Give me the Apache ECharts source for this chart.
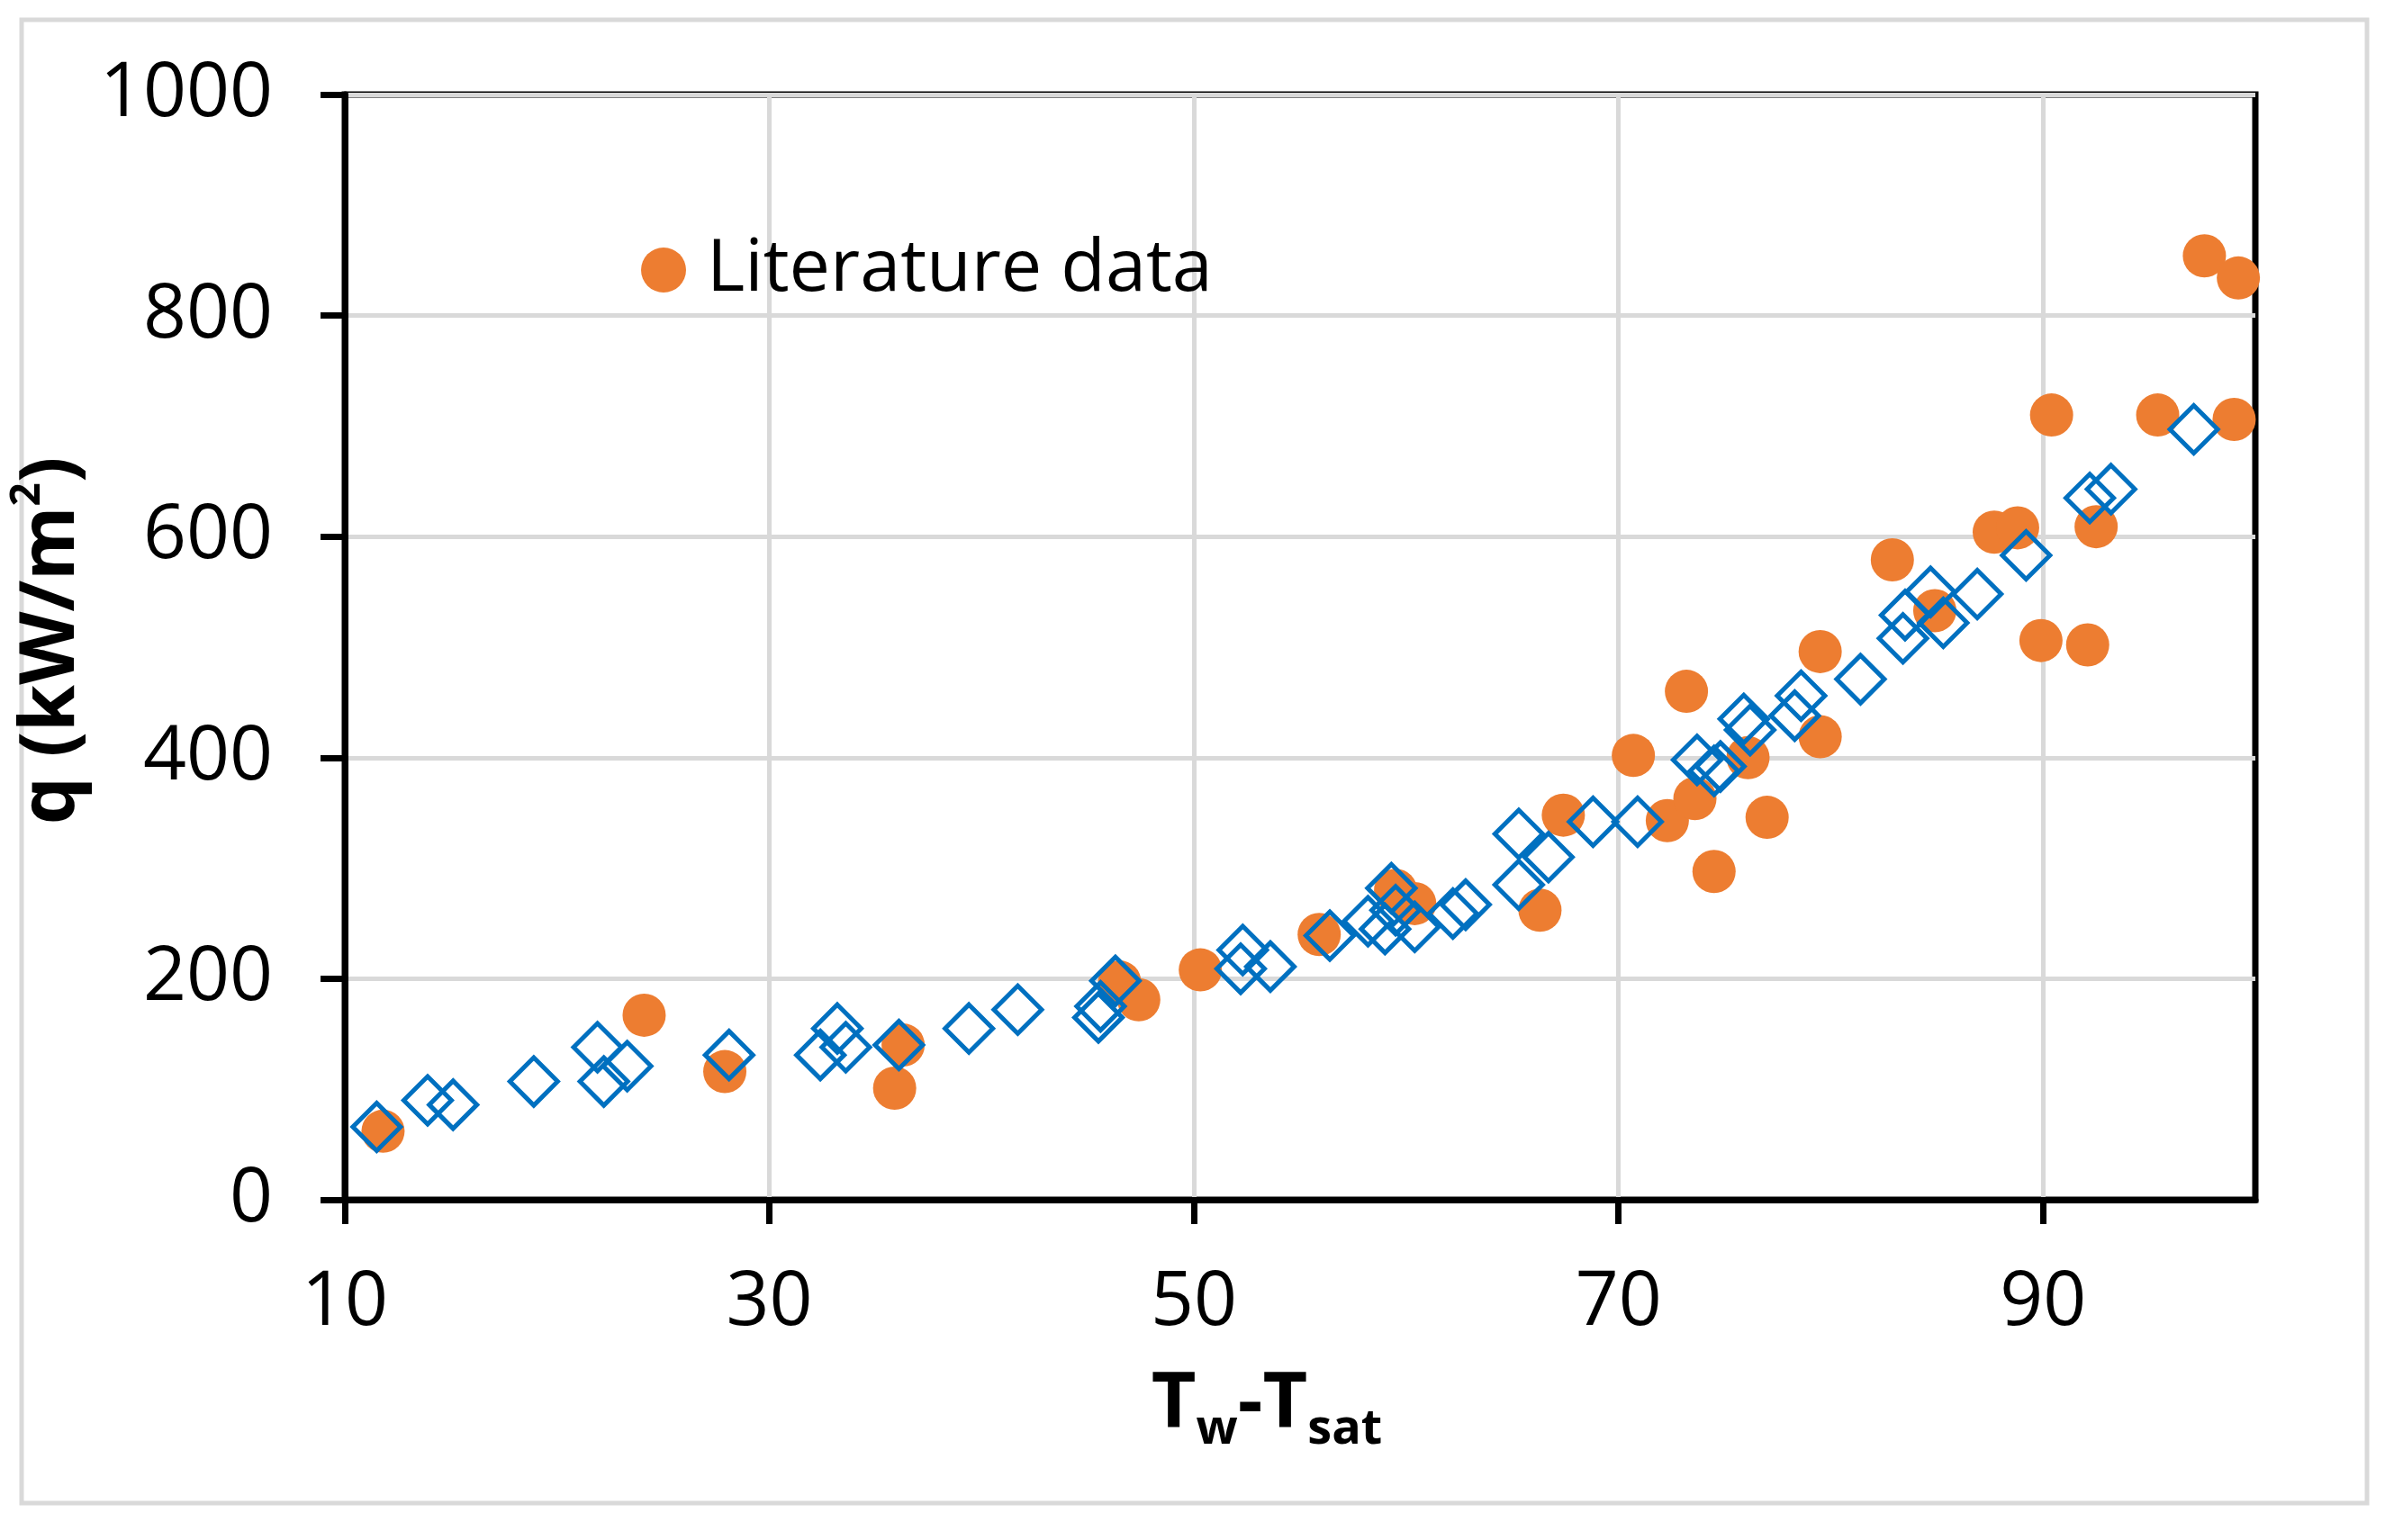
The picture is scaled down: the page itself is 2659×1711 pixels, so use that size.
<!DOCTYPE html>
<html>
<head>
<meta charset="utf-8">
<script src="https://cdn.jsdelivr.net/npm/echarts@6/dist/echarts.min.js"></script>
<style>
html,body{margin:0;padding:0;background:#fff;}
#chart{width:2659px;height:1711px;}
</style>
</head>
<body>
<div id="chart"></div>
<script>
// ---- data ----
const xTicks = [10, 30, 50, 70, 90];
const yTicks = [0, 200, 400, 600, 800, 1000];

const literatureData = [
  [11.8, 62], [24.1, 167], [27.9, 116], [35.9, 101], [36.3, 140],
  [46.5, 197], [47.4, 181], [50.3, 208], [55.9, 240], [59.5, 280],
  [60.4, 268], [66.3, 262], [67.4, 348], [70.7, 402], [72.3, 343],
  [73.2, 460], [73.6, 363], [74.5, 297], [76.1, 400], [77.0, 346],
  [79.5, 496], [79.5, 419], [82.9, 579], [84.9, 533], [87.7, 604],
  [88.8, 608], [89.9, 506], [90.4, 710], [92.1, 502], [92.5, 609],
  [95.4, 710], [97.6, 854], [99.0, 706], [99.2, 834]
];

const modelData = [
  [11.5, 66], [13.9, 90], [15.1, 86], [18.9, 107], [21.9, 138],
  [22.2, 107], [23.3, 121], [28.1, 131], [32.4, 131], [33.2, 155],
  [33.6, 138], [36.1, 140], [39.4, 155], [41.7, 172], [45.5, 165],
  [45.6, 175], [46.3, 198], [52.2, 209], [52.3, 226], [53.6, 211],
  [56.4, 239], [58.2, 252], [59.0, 245], [59.3, 282], [59.5, 262],
  [60.4, 247], [62.2, 259], [62.8, 267], [65.3, 331], [65.3, 285],
  [66.7, 310], [68.8, 342], [70.9, 342], [73.7, 398], [74.5, 388],
  [74.8, 392], [75.9, 435], [76.2, 425], [78.3, 438], [78.6, 456],
  [81.4, 471], [83.4, 508], [83.5, 529], [84.7, 550], [85.3, 522],
  [86.9, 548], [89.2, 583], [92.2, 635], [93.2, 643], [97.1, 697]
];

const FONT = '"Open Sans", "Noto Sans", sans-serif';

const chart = echarts.init(document.getElementById('chart'), null, {renderer: 'canvas'});
chart.setOption({
  backgroundColor: '#ffffff',
  animation: false,
  textStyle: {fontFamily: FONT},
  graphic: [{
    type: 'rect',
    silent: true,
    z: -10,
    shape: {x: 24, y: 22, width: 2605, height: 1648},
    style: {fill: 'none', stroke: '#d9d9d9', lineWidth: 5}
  }],
  grid: {
    left: 383, top: 105, right: 154, bottom: 378,
    containLabel: false,
    outerBoundsMode: 'none',
    show: true, borderColor: '#000', borderWidth: 7, backgroundColor: 'transparent'
  },
  legend: {
    data: ['Literature data'],
    left: 707, top: 250,
    icon: 'circle',
    itemWidth: 50, itemHeight: 50,
    textStyle: {fontFamily: FONT, fontSize: 81, color: '#000', lineHeight: 90, padding: [0, 0, 0, 18]}
  },
  xAxis: {
    type: 'value',
    min: 10, max: 100, interval: 20,
    name: '{m|T}{s|w}{m|-T}{s|sat}',
    nameLocation: 'middle',
    nameGap: 173,
    nameTextStyle: {
      padding: [0, 74, 0, 0],
      rich: {
        m: {fontFamily: FONT, fontSize: 86, fontWeight: 'bold', color: '#000', lineHeight: 110},
        s: {fontFamily: FONT, fontSize: 54, fontWeight: 'bold', color: '#000', lineHeight: 30, padding: [56, 0, 0, 0]}
      }
    },
    axisLine: {show: true, onZero: false, lineStyle: {color: '#000', width: 7}},
    axisTick: {show: true, inside: false, length: 27, customValues: xTicks, lineStyle: {color: '#000', width: 7}},
    axisLabel: {customValues: xTicks, margin: 73, fontFamily: FONT, fontSize: 84, color: '#000',
      formatter: v => String(v)},
    splitLine: {show: true, lineStyle: {color: '#d9d9d9', width: 5}}
  },
  yAxis: {
    type: 'value',
    min: 0, max: 1000, interval: 200,
    name: '{m|q (kW/m}{p|2}{m|)}',
    nameLocation: 'middle',
    nameGap: 232,
    nameRotate: 90,
    nameTextStyle: {
      padding: [0, 0, 0, 14],
      rich: {
        m: {fontFamily: FONT, fontSize: 84, fontWeight: 'bold', color: '#000', lineHeight: 100, verticalAlign: 'middle'},
        p: {fontFamily: FONT, fontSize: 46, fontWeight: 'bold', color: '#000', lineHeight: 64, verticalAlign: 'top'}
      }
    },
    axisLine: {show: true, onZero: false, lineStyle: {color: '#000', width: 7}},
    axisTick: {show: true, inside: false, length: 27, customValues: yTicks, lineStyle: {color: '#000', width: 7}},
    axisLabel: {customValues: yTicks, margin: 80, fontFamily: FONT, fontSize: 84, color: '#000',
      formatter: v => String(v)},
    splitLine: {show: true, lineStyle: {color: '#d9d9d9', width: 5}}
  },
  series: [
    {
      name: 'Literature data',
      type: 'scatter',
      symbol: 'circle',
      symbolSize: 48,
      itemStyle: {color: '#ED7D31', opacity: 1},
      data: literatureData,
      z: 2
    },
    {
      name: 'Model',
      type: 'scatter',
      symbol: 'diamond',
      symbolSize: 53,
      itemStyle: {color: 'rgba(0,0,0,0)', borderColor: '#0070C0', borderWidth: 5, opacity: 1},
      data: modelData,
      z: 3
    }
  ]
});
</script>
</body>
</html>
